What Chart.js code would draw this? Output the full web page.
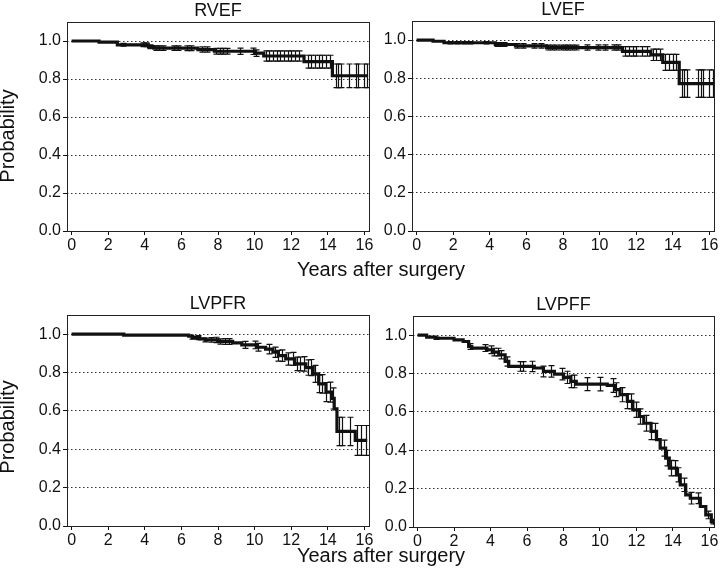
<!DOCTYPE html>
<html>
<head>
<meta charset="utf-8">
<script src="https://cdn.jsdelivr.net/npm/chart.js@4.4.0/dist/chart.umd.min.js"></script>
<style>
  html, body { margin: 0; padding: 0; background: #fff; }
  #wrap { position: relative; width: 720px; height: 585px; overflow: hidden; font-family: "Liberation Sans", Arial, sans-serif; color: #111; }
  canvas { position: absolute; }
  .lbl { position: absolute; font-size: 20px; line-height: 24px; white-space: nowrap; text-align: center; }
  .ylbl { width: 140px; height: 24px; transform: rotate(-90deg); }
</style>
</head>
<body>
<div id="wrap">
  <canvas id="c1"></canvas>
  <canvas id="c2"></canvas>
  <canvas id="c3"></canvas>
  <canvas id="c4"></canvas>
  <div class="lbl ylbl" style="left:-63px; top:124px;">Probability</div>
  <div class="lbl ylbl" style="left:-63px; top:415px;">Probability</div>
  <div class="lbl" style="left:281px; width:200px; top:257px;">Years after surgery</div>
  <div class="lbl" style="left:281px; width:200px; top:543px;">Years after surgery</div>
</div>
<script>
// panel titles
const titles = ['RVEF', 'LVEF', 'LVPFR', 'LVPFF'];

// Kaplan-Meier steps (years, probability)
const rvefT = [0, 1.5, 2.5, 4.2, 4.5, 6.9, 7.8, 10.0, 10.5, 12.7, 14.25, 16.2];
const rvefS = [1.0, 0.994, 0.98, 0.97, 0.962, 0.955, 0.946, 0.936, 0.921, 0.891, 0.817, 0.817];

const lvefT = [0, 0.9, 1.5, 4.3, 5.4, 7.1, 11.25, 12.8, 13.45, 14.35, 16.3];
const lvefS = [1.0, 0.994, 0.986, 0.977, 0.970, 0.961, 0.941, 0.923, 0.883, 0.772, 0.772];

const lvpfrT = [0, 2.85, 6.4, 6.6, 7.0, 7.3, 8.0, 8.8, 9.3, 10.1, 10.6, 11.0, 11.3, 11.7, 12.2, 12.8, 13.2, 13.5, 13.9, 14.2, 14.35, 14.5, 15.5, 16.15];
const lvpfrS = [1.0, 0.995, 0.99, 0.982, 0.976, 0.97, 0.962, 0.955, 0.944, 0.932, 0.922, 0.906, 0.888, 0.871, 0.845, 0.826, 0.793, 0.741, 0.698, 0.665, 0.611, 0.493, 0.446, 0.446];

const lvpffT = [0, 0.5, 1.0, 2.0, 2.5, 2.8, 2.97, 3.8, 4.1, 4.45, 4.8, 5.0, 6.4, 6.9, 7.5, 8.0, 8.4, 8.7, 10.4, 10.8, 11.1, 11.5, 11.8, 12.15, 12.4, 12.8, 13.1, 13.3, 13.6, 13.8, 14.2, 14.4, 14.7, 14.95, 15.5, 15.8, 16.1, 16.3];
const lvpffS = [1.0, 0.99, 0.984, 0.976, 0.967, 0.941, 0.933, 0.924, 0.912, 0.898, 0.863, 0.837, 0.829, 0.811, 0.797, 0.78, 0.759, 0.745, 0.738, 0.716, 0.69, 0.655, 0.611, 0.576, 0.541, 0.498, 0.455, 0.411, 0.359, 0.307, 0.272, 0.22, 0.167, 0.15, 0.107, 0.063, 0.028, 0.01];

// error bars: time and half width
const rvefErrT = [2.8, 3.9, 4.05, 4.3, 4.6, 4.8, 5.0, 5.6, 5.8, 6.3, 6.5, 7.1, 7.4, 7.9, 8.1, 8.3, 8.5, 9.2, 9.9, 10.1,
  10.6, 10.8, 11.0, 11.2, 11.4, 11.6, 11.8, 12.0, 12.2, 12.4, 12.9, 13.1, 13.3, 13.5, 13.7, 13.9, 14.1,
  14.45, 14.55, 14.7, 15.15, 15.55, 15.65, 16.0, 16.15];
const rvefErrH = [0.007, 0.01, 0.01, 0.01, 0.012, 0.012, 0.012, 0.012, 0.012, 0.013, 0.013, 0.014, 0.014, 0.015, 0.015, 0.015, 0.015, 0.016, 0.017, 0.017,
  0.027, 0.027, 0.027, 0.027, 0.027, 0.027, 0.027, 0.027, 0.027, 0.027, 0.034, 0.034, 0.034, 0.034, 0.034, 0.034, 0.034,
  0.062, 0.062, 0.062, 0.062, 0.062, 0.062, 0.062, 0.062];

const lvefErrT = [1.8, 2.2, 2.6, 2.9, 3.8, 4.4, 4.6, 4.8, 5.5, 5.8, 6.4, 6.8, 7.2, 7.4, 7.6, 7.9, 8.1, 8.3, 8.5, 8.7,
  9.3, 9.9, 10.3, 10.8, 11.0, 11.4, 11.6, 11.8, 12.0, 12.3, 12.6, 12.9, 13.1, 13.3, 13.6, 13.8, 14.0, 14.2,
  14.5, 14.6, 14.75, 15.4, 15.55, 15.65, 16.0, 16.2];
const lvefErrH = [0.006, 0.006, 0.006, 0.006, 0.006, 0.01, 0.01, 0.01, 0.012, 0.012, 0.012, 0.012, 0.013, 0.013, 0.013, 0.013, 0.013, 0.013, 0.013, 0.013,
  0.014, 0.014, 0.014, 0.014, 0.014, 0.025, 0.025, 0.025, 0.025, 0.025, 0.025, 0.03, 0.03, 0.03, 0.042, 0.042, 0.042, 0.042,
  0.072, 0.072, 0.072, 0.072, 0.072, 0.072, 0.072, 0.072];

const lvpfrErrT = [6.6, 6.9, 7.3, 7.6, 7.9, 8.1, 8.4, 8.6, 9.5, 10.0, 10.2, 10.8, 11.1, 11.3, 11.5, 11.8, 12.1, 12.3, 12.5, 12.7,
  12.9, 13.1, 13.3, 13.5, 13.7, 13.9, 14.1, 14.3, 14.6, 14.8, 15.2, 15.6, 15.8, 16.1];
const lvpfrErrH = [0.008, 0.01, 0.01, 0.012, 0.014, 0.014, 0.015, 0.015, 0.018, 0.02, 0.02, 0.025, 0.027, 0.028, 0.03, 0.032, 0.034, 0.035, 0.036, 0.038,
  0.04, 0.042, 0.044, 0.046, 0.048, 0.05, 0.052, 0.055, 0.074, 0.074, 0.074, 0.078, 0.078, 0.078];

const lvpffErrT = [1.0, 2.9, 3.7, 4.0, 4.2, 4.4, 4.6, 4.9, 5.6, 5.8, 6.3, 6.9, 7.3, 7.9, 8.2, 8.4, 8.6, 9.3, 10.0, 10.7,
  10.9, 11.2, 11.5, 11.7, 12.0, 12.2, 12.5, 12.8, 13.0, 13.5, 13.7, 13.9, 14.1, 14.3, 14.6, 15.0, 15.4, 15.9, 16.2];
const lvpffErrH = [0.006, 0.015, 0.018, 0.02, 0.02, 0.02, 0.022, 0.024, 0.025, 0.025, 0.027, 0.028, 0.03, 0.03, 0.032, 0.032, 0.033, 0.034, 0.035, 0.036,
  0.036, 0.037, 0.038, 0.039, 0.04, 0.04, 0.041, 0.042, 0.042, 0.042, 0.04, 0.04, 0.039, 0.037, 0.035, 0.03, 0.028, 0.02, 0.012];

// axis ticks
const xTicks = [0, 2, 4, 6, 8, 10, 12, 14, 16];
const yTicks = [0.0, 0.2, 0.4, 0.6, 0.8, 1.0];

const FONT = "'Liberation Sans', Arial, sans-serif";

function stepValue(times, vals, t) {
  let v = vals[0];
  for (let i = 0; i < times.length; i++) {
    if (times[i] <= t) v = vals[i];
  }
  return v;
}

function makePanel(id, box, title, times, vals, errT, errH) {
  const padR = 11, yW = 67, xH = 31, topH = 22;
  const cv = document.getElementById(id);
  cv.width = (box.r - box.l) + yW + padR;
  cv.height = (box.b - box.t) + topH + xH;
  cv.style.left = (box.l - yW) + 'px';
  cv.style.top = (box.t - topH) + 'px';

  const errPlugin = {
    id: 'errBars' + id,
    afterDatasetsDraw(chart) {
      const ctx = chart.ctx, xs = chart.scales.x, ys = chart.scales.y, a = chart.chartArea;
      ctx.save();
      ctx.beginPath();
      ctx.rect(a.left, a.top - 2, a.right - a.left, a.bottom - a.top + 2);
      ctx.clip();
      ctx.strokeStyle = '#111';
      ctx.lineWidth = 1.2;
      for (let i = 0; i < errT.length; i++) {
        const c = stepValue(times, vals, errT[i]);
        const x = Math.round(xs.getPixelForValue(errT[i])) + 0.5;
        const y1 = ys.getPixelForValue(c + errH[i]);
        const y2 = ys.getPixelForValue(c - errH[i]);
        ctx.beginPath();
        ctx.moveTo(x, y1); ctx.lineTo(x, y2);
        ctx.moveTo(x - 3, y1); ctx.lineTo(x + 3, y1);
        ctx.moveTo(x - 3, y2); ctx.lineTo(x + 3, y2);
        ctx.stroke();
      }
      ctx.restore();
    },
    afterDraw(chart) {
      const a = chart.chartArea, ctx = chart.ctx;
      ctx.save();
      ctx.strokeStyle = '#222';
      ctx.lineWidth = 1;
      ctx.strokeRect(Math.round(a.left) + 0.5, Math.round(a.top) + 0.5, Math.round(a.right - a.left), Math.round(a.bottom - a.top));
      ctx.restore();
    }
  };

  return new Chart(cv, {
    type: 'line',
    data: {
      datasets: [{
        data: times.map((t, i) => ({ x: t, y: vals[i] })),
        stepped: 'before',
        borderColor: '#111',
        borderWidth: 3.2,
        pointRadius: 0,
        fill: false
      }]
    },
    options: {
      responsive: false,
      animation: false,
      events: [],
      layout: { padding: { left: 0, right: padR, top: 0, bottom: 0 } },
      plugins: {
        legend: { display: false },
        tooltip: { enabled: false },
        title: {
          display: true,
          text: title,
          fullSize: false,
          color: '#111',
          font: { family: FONT, size: 18, weight: 'normal', lineHeight: '20px' },
          padding: { top: 1, bottom: 1 }
        }
      },
      scales: {
        x: {
          type: 'linear',
          min: -0.25,
          max: 16.25,
          afterFit: s => { s.height = xH; },
          afterBuildTicks: s => { s.ticks = xTicks.map(v => ({ value: v })); },
          ticks: { color: '#111', font: { family: FONT, size: 16 }, padding: 1, callback: v => String(v) },
          grid: { drawOnChartArea: false, drawTicks: true, tickLength: 4, color: '#111' },
          border: { display: false }
        },
        y: {
          type: 'linear',
          min: 0,
          max: 1.1,
          afterFit: s => { s.width = yW; },
          afterBuildTicks: s => { s.ticks = yTicks.map(v => ({ value: v })); },
          ticks: { color: '#111', font: { family: FONT, size: 16 }, padding: 2, callback: v => v.toFixed(1) },
          grid: { color: '#333', lineWidth: 1, drawTicks: true, tickLength: 4, tickColor: '#111', tickBorderDash: [] },
          border: { display: false, dash: [1.5, 2.5] }
        }
      }
    },
    plugins: [errPlugin]
  });
}

makePanel('c1', { l: 67, t: 22, r: 369, b: 231 }, titles[0], rvefT, rvefS, rvefErrT, rvefErrH);
makePanel('c2', { l: 412, t: 21, r: 714, b: 231 }, titles[1], lvefT, lvefS, lvefErrT, lvefErrH);
makePanel('c3', { l: 67, t: 315, r: 369, b: 526 }, titles[2], lvpfrT, lvpfrS, lvpfrErrT, lvpfrErrH);
makePanel('c4', { l: 413, t: 316, r: 714, b: 527 }, titles[3], lvpffT, lvpffS, lvpffErrT, lvpffErrH);
</script>
</body>
</html>
